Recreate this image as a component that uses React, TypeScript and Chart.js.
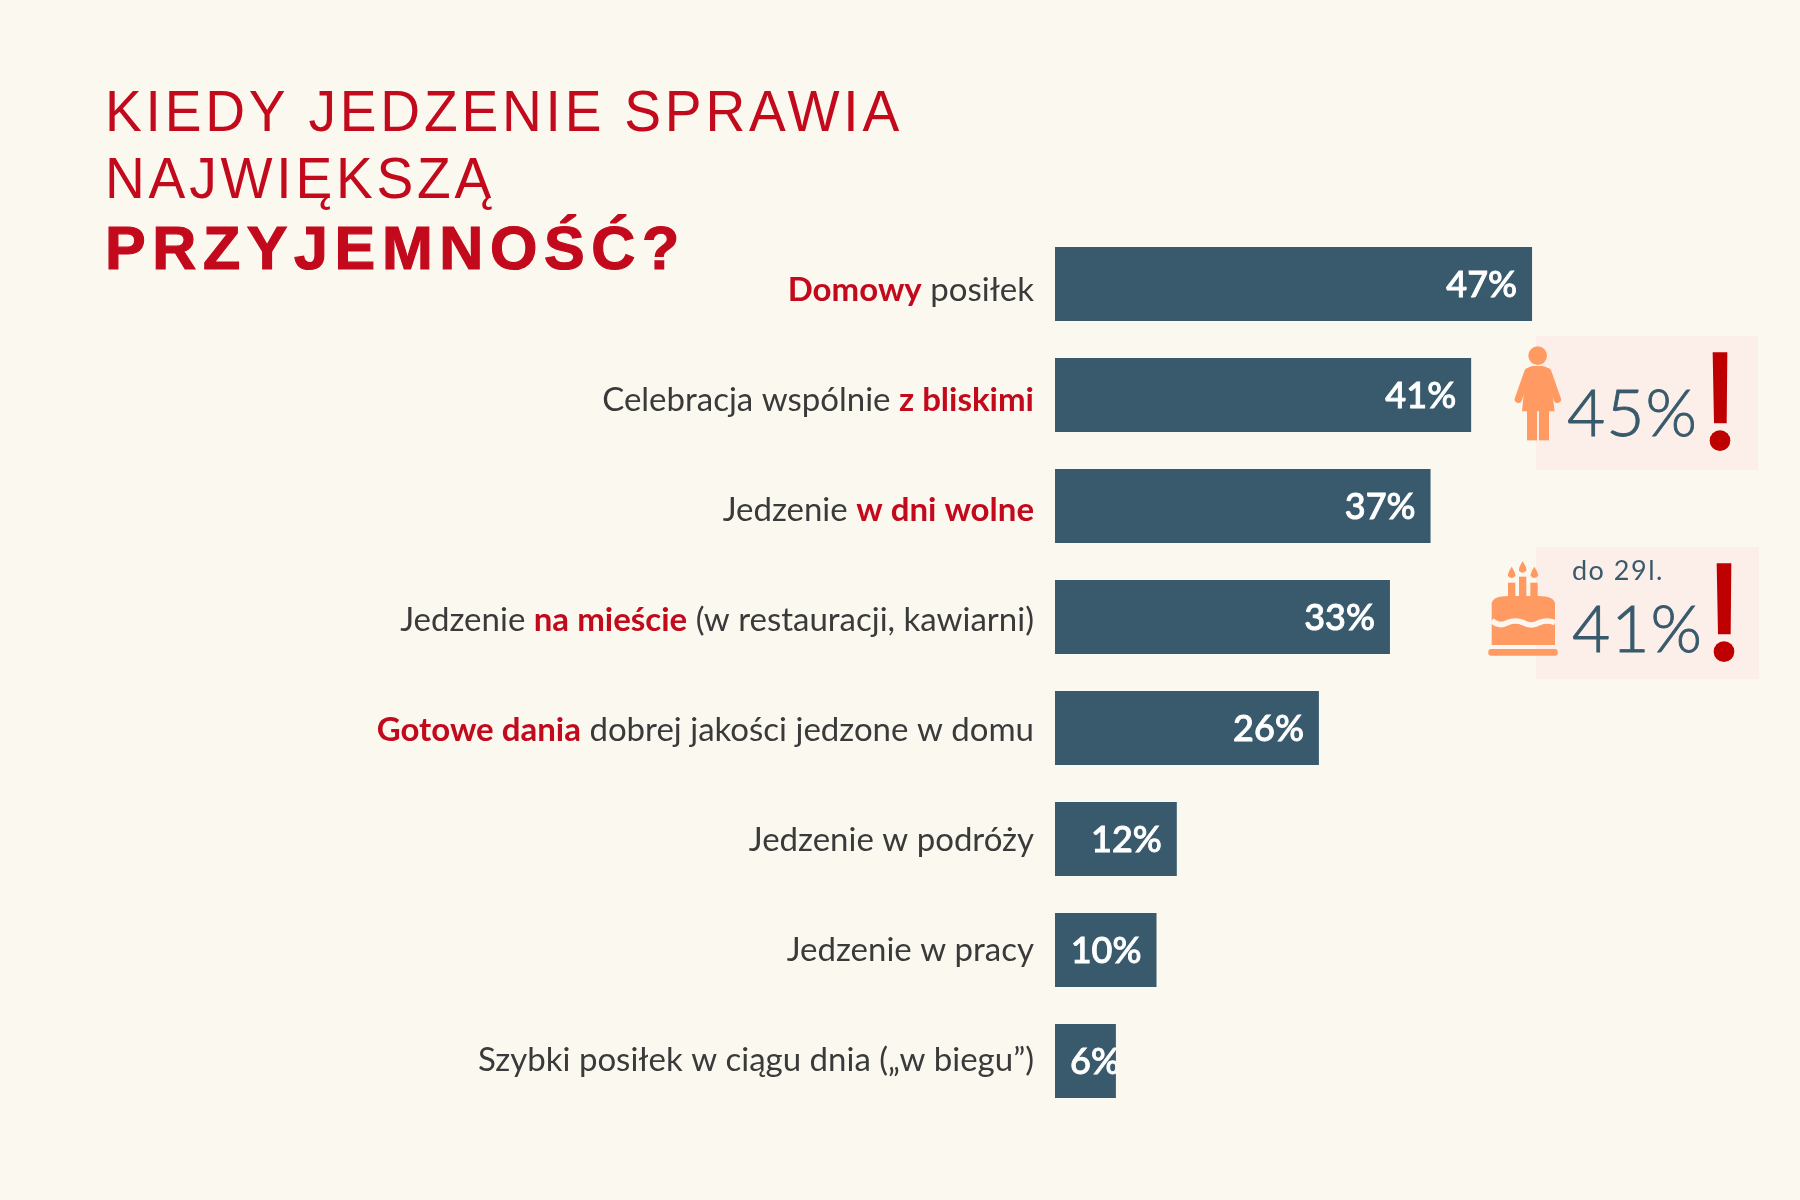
import React, { useEffect, useRef } from "react";
import { Chart, registerables } from "chart.js";

Chart.register(...registerables);

const categories = [
  "Domowy posiłek",
  "Celebracja wspólnie z bliskimi",
  "Jedzenie w dni wolne",
  "Jedzenie na mieście (w restauracji, kawiarni)",
  "Gotowe dania dobrej jakości jedzone w domu",
  "Jedzenie w podróży",
  "Jedzenie w pracy",
  "Szybki posiłek w ciągu dnia („w biegu”)",
];
const emphasis = ["Domowy", "z bliskimi", "w dni wolne", "na mieście", "Gotowe dania", "", "", ""];
const values = [47, 41, 37, 33, 26, 12, 10, 6];
const titleLines = ["KIEDY JEDZENIE SPRAWIA", "NAJWIĘKSZĄ", "PRZYJEMNOŚĆ?"];
const calloutWomen = "45%";
const calloutAgeLabel = "do 29l.";
const calloutAge = "41%";

const BG = "#FBF8F0";
const BAR = "#385A6C";
const RED = "#C20A1C";
const DARK_RED = "#BE0000";
const GREY = "#3A3A3A";
const ORANGE = "#FF9A62";
const PINK = "#FCEFEA";

function setSpacing(ctx: any, px: number) {
  ctx.letterSpacing = px + "px";
}

const titlePlugin = {
  id: "titleText",
  afterDraw(chart: any) {
    const ctx = chart.ctx;
    ctx.save();
    ctx.fillStyle = RED;
    ctx.strokeStyle = RED;
    ctx.textAlign = "left";
    ctx.textBaseline = "alphabetic";
    ctx.save();
    ctx.translate(105, 0);
    ctx.scale(0.95, 1);
    ctx.font = '400 58px "Liberation Sans"';
    setSpacing(ctx, 4);
    ctx.fillText(titleLines[0], 0, 131);
    ctx.fillText(titleLines[1], 0, 198);
    ctx.restore();
    ctx.save();
    ctx.translate(105, 0);
    ctx.font = '700 61px "Liberation Sans"';
    setSpacing(ctx, 6.6);
    ctx.lineWidth = 1.2;
    ctx.fillText(titleLines[2], 0, 269);
    ctx.strokeText(titleLines[2], 0, 269);
    ctx.restore();
    ctx.restore();
  },
};

const labelsPlugin = {
  id: "richLabels",
  afterDatasetsDraw(chart: any) {
    const ctx = chart.ctx;
    const meta = chart.getDatasetMeta(0);
    ctx.save();
    ctx.textBaseline = "middle";
    const reg = '400 33px Lato';
    const bold = '700 33px Lato';
    categories.forEach((cat, i) => {
      const el = meta.data[i];
      const y = el.y + 6 - 0.9 * i;
      const emph = emphasis[i];
      const at = emph ? cat.indexOf(emph) : -1;
      const parts = at >= 0
        ? [
            { t: cat.slice(0, at), b: false },
            { t: emph, b: true },
            { t: cat.slice(at + emph.length), b: false },
          ]
        : [{ t: cat, b: false }];
      let total = 0;
      parts.forEach((p) => {
        ctx.font = p.b ? bold : reg;
        total += ctx.measureText(p.t).width;
      });
      let x = 1034 - total;
      ctx.textAlign = "left";
      parts.forEach((p) => {
        if (!p.t) return;
        ctx.font = p.b ? bold : reg;
        ctx.fillStyle = p.b ? RED : GREY;
        ctx.fillText(p.t, x, y);
        x += ctx.measureText(p.t).width;
      });

      // value label, clipped to its bar
      const top = el.y - el.height / 2;
      ctx.save();
      ctx.beginPath();
      ctx.rect(el.base, top, el.x - el.base, el.height);
      ctx.clip();
      ctx.font = '500 36px Lato';
      ctx.fillStyle = "#FFFFFF";
      ctx.strokeStyle = "#FFFFFF";
      ctx.lineWidth = 0.9;
      const label = values[i] + "%";
      const w = ctx.measureText(label).width;
      const lx = Math.max(el.x - 15 - w, el.base + 15);
      ctx.fillText(label, lx, el.y + 1);
      ctx.strokeText(label, lx, el.y + 1);
      ctx.restore();
    });
    ctx.restore();
  },
};

const calloutPlugin = {
  id: "callouts",
  afterDraw(chart: any) {
    const ctx = chart.ctx;
    ctx.save();
    ctx.fillStyle = PINK;
    ctx.fillRect(1536, 336, 222, 134);
    ctx.fillRect(1536, 547, 223, 132);

    ctx.fillStyle = BAR;
    ctx.strokeStyle = BAR;
    ctx.lineWidth = 0.9;
    ctx.textAlign = "left";
    ctx.textBaseline = "alphabetic";
    ctx.font = '300 66px Lato';
    setSpacing(ctx, 1);
    ctx.fillText(calloutWomen, 1567, 436);
    ctx.strokeText(calloutWomen, 1567, 436);
    ctx.fillText(calloutAge, 1572, 652);
    ctx.strokeText(calloutAge, 1572, 652);
    ctx.font = '400 27px Lato';
    setSpacing(ctx, 1.5);
    ctx.fillText(calloutAgeLabel, 1572, 580);
    setSpacing(ctx, 0);

    // icon artwork, drawn in 3x units from the crop origin
    ctx.translate(1440, 320);
    ctx.scale(1 / 3, 1 / 3);

    // exclamation marks
    ctx.fillStyle = DARK_RED;
    const mark = (dx: number, dy: number, h: number) => {
      ctx.beginPath();
      ctx.moveTo(818 + dx, 97 + dy);
      ctx.lineTo(862 + dx, 97 + dy);
      ctx.lineTo(860 + dx, 97 + dy + h);
      ctx.lineTo(822 + dx, 97 + dy + h);
      ctx.closePath();
      ctx.fill();
      ctx.beginPath();
      ctx.arc(840 + dx, 97 + dy + h + 52, 31, 0, Math.PI * 2);
      ctx.fill();
    };
    mark(0, 0, 213);
    mark(12, 633, 213);

    // woman
    ctx.fillStyle = ORANGE;
    ctx.strokeStyle = ORANGE;
    ctx.lineCap = "round";
    ctx.beginPath();
    ctx.arc(293, 107, 28, 0, Math.PI * 2);
    ctx.fill();
    ctx.beginPath();
    ctx.moveTo(258, 150);
    ctx.quadraticCurveTo(266, 138, 282, 138);
    ctx.lineTo(304, 138);
    ctx.quadraticCurveTo(320, 138, 328, 150);
    ctx.lineTo(344, 274);
    ctx.lineTo(246, 274);
    ctx.closePath();
    ctx.fill();
    ctx.lineWidth = 22;
    ctx.beginPath();
    ctx.moveTo(264, 155);
    ctx.lineTo(235, 238);
    ctx.moveTo(323, 155);
    ctx.lineTo(352, 238);
    ctx.stroke();
    ctx.fillRect(261, 270, 30, 91);
    ctx.fillRect(297, 270, 30, 91);

    // cake
    ctx.beginPath();
    ctx.moveTo(155, 850);
    ctx.quadraticCurveTo(160, 828, 205, 828);
    ctx.lineTo(295, 828);
    ctx.quadraticCurveTo(340, 828, 345, 850);
    ctx.lineTo(345, 975);
    ctx.lineTo(155, 975);
    ctx.closePath();
    ctx.fill();
    ctx.fillRect(204, 788, 22, 42);
    ctx.fillRect(237, 770, 22, 60);
    ctx.fillRect(271, 788, 22, 42);
    ctx.beginPath();
    ctx.roundRect(145, 987, 208, 20, 8);
    ctx.fill();
    const flame = (x: number, y: number) => {
      ctx.beginPath();
      ctx.moveTo(x, y - 20);
      ctx.quadraticCurveTo(x + 13, y, x + 11, y + 8);
      ctx.quadraticCurveTo(x, y + 20, x - 11, y + 8);
      ctx.quadraticCurveTo(x - 13, y, x, y - 20);
      ctx.fill();
    };
    flame(215, 760);
    flame(248, 744);
    flame(283, 760);
    ctx.strokeStyle = "#FDF6F0";
    ctx.lineWidth = 17;
    ctx.lineCap = "butt";
    ctx.beginPath();
    ctx.moveTo(155, 902);
    [0, 1, 2, 3].forEach((k) => {
      const x0 = 155 + k * 47.5;
      ctx.quadraticCurveTo(x0 + 24, k % 2 ? 898 : 922, x0 + 47.5, 908);
    });
    ctx.stroke();
    ctx.restore();
  },
};

const backgroundPlugin = {
  id: "bg",
  beforeDraw(chart: any) {
    const { ctx, width, height } = chart;
    ctx.save();
    ctx.fillStyle = BG;
    ctx.fillRect(0, 0, width, height);
    ctx.restore();
  },
};

export default function App() {
  const ref = useRef<HTMLCanvasElement | null>(null);
  useEffect(() => {
    document.body.style.margin = "0";
    document.body.style.background = BG;
    const chart = new Chart(ref.current as HTMLCanvasElement, {
      type: "bar",
      data: {
        labels: categories,
        datasets: [
          {
            data: values,
            backgroundColor: BAR,
            borderWidth: 0,
            barPercentage: 1,
            categoryPercentage: 0.667,
          },
        ],
      },
      options: {
        indexAxis: "y",
        responsive: false,
        animation: false,
        devicePixelRatio: 1,
        layout: { padding: { left: 1055, right: 34.5, top: 228.5, bottom: 83.5 } },
        plugins: { legend: { display: false }, tooltip: { enabled: false }, title: { display: false } },
        scales: {
          x: { display: false, min: 0, max: 70, grid: { display: false } },
          y: { display: false, grid: { display: false } },
        },
      },
      plugins: [backgroundPlugin, titlePlugin, labelsPlugin, calloutPlugin],
    } as any);
    return () => chart.destroy();
  }, []);
  return (
    <canvas
      ref={ref}
      width={1800}
      height={1200}
      style={{ display: "block", width: 1800, height: 1200 }}
    />
  );
}
